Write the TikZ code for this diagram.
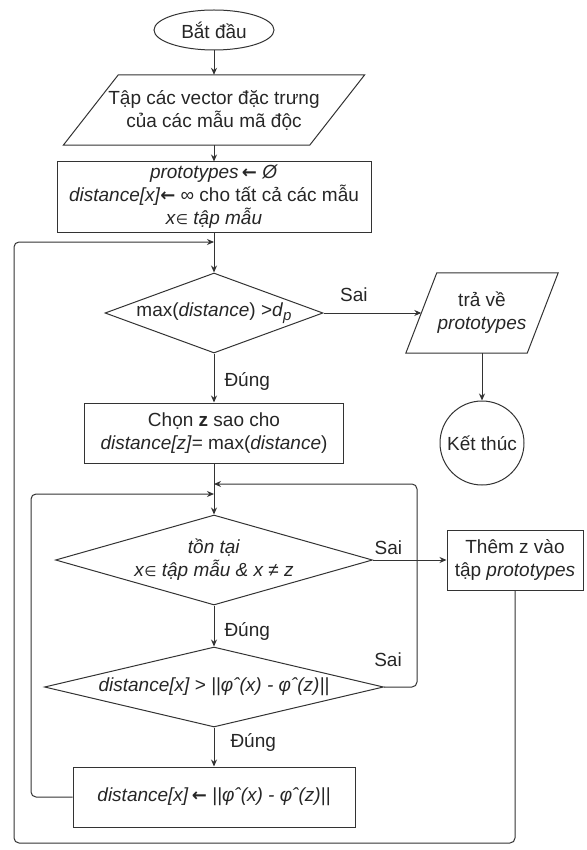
\documentclass[tikz,border=0pt]{standalone}
\usepackage{fontspec}
\setmainfont{Liberation Sans}
\newfontfamily\symfont{DejaVu Sans}
\newfontfamily\arrowfont{DejaVu Sans Bold}
\usetikzlibrary{shapes.geometric,arrows.meta}
% element-of sign, assignment arrow and the small index p
\newcommand{\elemof}{{\symfont\fontsize{14}{14}\selectfont ∈}}
\newcommand{\assign}{{\arrowfont\fontsize{18}{18}\selectfont ←}}
\newcommand{\subp}{\raisebox{-0.45ex}{\fontsize{15}{15}\selectfont\itshape p}}
\begin{document}
\begin{tikzpicture}[x=1pt,y=-1pt,
  every node/.style={font=\fontsize{19}{23}\selectfont, text=black!85},
  outline/.style={draw=black!80, line width=1pt},
  box/.style={outline, rectangle, inner sep=0pt, align=center},
  slanted/.style={rectangle, inner sep=0pt, align=center},
  decision/.style={outline, diamond, inner sep=0pt},
  lbl/.style={inner sep=0pt},
  flow/.style={draw=black!80, line width=1pt, -{Stealth[length=7pt,width=6pt]}},
  loopline/.style={flow, rounded corners=5pt}
]
\useasboundingbox (0,0) rectangle (586,850);

% main column
\node[outline, ellipse, inner sep=0pt, minimum width=120pt, minimum height=40pt] (start) at (214,30) {Bắt đầu};

\node[slanted, minimum width=246pt, minimum height=70pt] (in) at (214,110)
  {Tập các vector đặc trưng\\của các mẫu mã độc};
\draw[outline] ([xshift=27.5pt]in.north west) -- ([xshift=27.5pt]in.north east)
  -- ([xshift=-27.5pt]in.south east) -- ([xshift=-27.5pt]in.south west) -- cycle;

\node[box, minimum width=314pt, minimum height=70pt] (init) at (214,197)
  {\textit{prototypes}\,\assign{} \textit{Ø}\\\textit{distance[x]}\assign{} ∞ cho tất cả các mẫu\\\textit{x}\elemof{} \textit{tập mẫu}};

\node[decision, minimum width=218pt, minimum height=80pt] (d1) at (214,313) {};
\node[lbl] (d1t) at (214,313) {max(\textit{distance}) >\textit{d}\subp};

\node[box, minimum width=259pt, minimum height=60pt] (pick) at (214,433)
  {Chọn \textbf{z} sao cho\\\textit{distance[z]}= max(\textit{distance})};

\node[decision, minimum width=317pt, minimum height=90pt] (d2) at (214,560) {};
\node[lbl, align=center] (d2t) at (214,560)
  {\textit{tồn tại}\\\textit{x}\elemof{} \textit{tập mẫu \& x ≠ z}};

\node[decision, minimum width=339pt, minimum height=80pt] (d3) at (214,687) {};
\node[lbl] (d3t) at (214,687) {\textit{distance[x] > ||φˆ(x) - φˆ(z)||}};

\node[box, minimum width=282pt, minimum height=60pt] (upd) at (214,797)
  {\textit{distance[x]}\,\assign{} \textit{||φˆ(x) - φˆ(z)||}};

% right column
\node[slanted, minimum width=121pt, minimum height=80pt] (ret) at (482,313)
  {trả về\\\textit{prototypes}};
\draw[outline] ([xshift=15.5pt]ret.north west) -- ([xshift=15.5pt]ret.north east)
  -- ([xshift=-15.5pt]ret.south east) -- ([xshift=-15.5pt]ret.south west) -- cycle;

\node[outline, circle, inner sep=0pt, minimum size=84pt] (end) at (482,443) {Kết thúc};

\node[box, minimum width=136pt, minimum height=60pt] (add) at (515,560)
  {Thêm z vào\\tập \textit{prototypes}};

% junctions on the main column
\coordinate (j1) at (214,242);
\coordinate (j2) at (214,484);
\coordinate (j3) at (214,494);
% loop corners
\coordinate (c2) at (417,484);
\coordinate (c3) at (31,494);
\coordinate (c4) at (14,843);

% straight connectors
\draw[flow] (start) -- (in.north);
\draw[flow] (in.south) -- (init.north);
\draw[flow] (init.south) -- (d1.north);
\draw[flow] (d1.east) -- node[lbl, pos=0.31, anchor=south, yshift=11pt] (s1) {Sai} (ret.west);
\draw[flow] (d1.south) -- node[lbl, pos=0.58, anchor=west, xshift=10pt] (y1) {Đúng} (pick.north);
\draw[flow] (ret.south) -- (end.north);
\draw[flow] (pick.south) -- (d2.north);
\draw[flow] (d2.east) -- node[lbl, pos=0.21, anchor=south, yshift=5pt] (s2) {Sai} (add.west);
\draw[flow] (d2.south) -- node[lbl, pos=0.64, anchor=west, xshift=10pt] (y2) {Đúng} (d3.north);
\draw[flow] (d3.south) -- node[lbl, pos=0.375, anchor=west, xshift=16pt] (y3) {Đúng} (upd.north);

% loops back to the main column
\node[lbl, anchor=south] (s3) at (388,667) {Sai};
\draw[loopline] (d3.east) -| (c2) -- (j2);
\draw[loopline] (upd.west) -| (c3) -- (j3);
\draw[loopline] (add.south) |- (c4) |- (j1);
\end{tikzpicture}
\end{document}
